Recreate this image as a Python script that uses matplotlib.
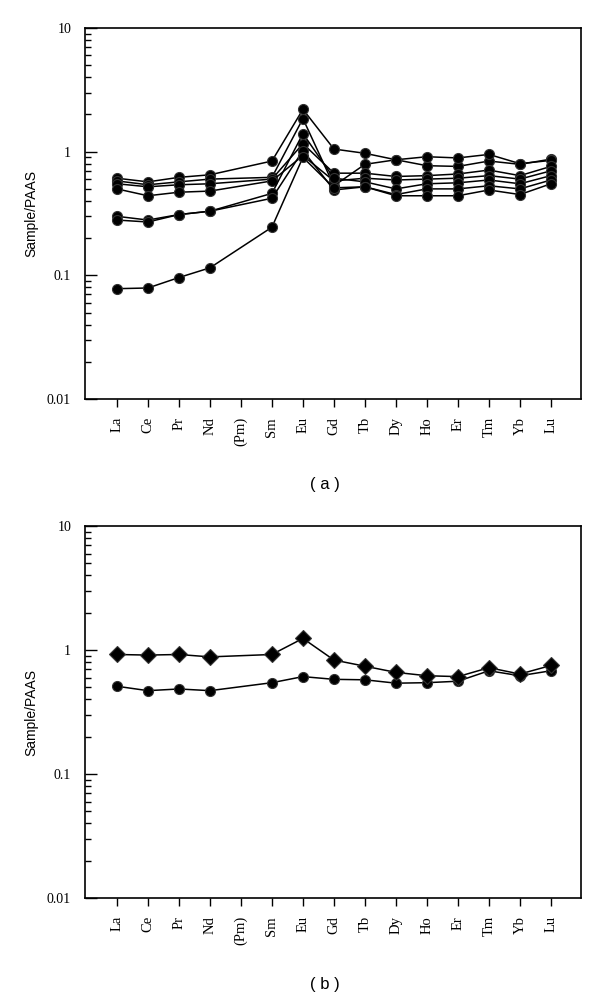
import numpy as np
import matplotlib
matplotlib.use("Agg")
import matplotlib.pyplot as plt
from matplotlib.ticker import LogLocator, NullFormatter, FixedLocator, FixedFormatter

elements = ["La", "Ce", "Pr", "Nd", "(Pm)", "Sm", "Eu", "Gd", "Tb", "Dy", "Ho", "Er", "Tm", "Yb", "Lu"]
measured = ["La", "Ce", "Pr", "Nd", "Sm", "Eu", "Gd", "Tb", "Dy", "Ho", "Er", "Tm", "Yb", "Lu"]

# panel (a) samples
a1 = [0.61, 0.57, 0.62, 0.65, 0.84, 2.20, 1.05, 0.97, 0.86, 0.77, 0.76, 0.84, 0.79, 0.87]
a2 = [0.58, 0.54, 0.57, 0.60, 0.62, 1.85, 0.53, 0.79, 0.86, 0.91, 0.89, 0.95, 0.80, 0.85]
a3 = [0.55, 0.52, 0.54, 0.55, 0.60, 1.16, 0.67, 0.67, 0.63, 0.64, 0.66, 0.71, 0.64, 0.76]
a4 = [0.50, 0.44, 0.47, 0.48, 0.58, 0.93, 0.58, 0.61, 0.59, 0.60, 0.61, 0.64, 0.60, 0.70]
a5 = [0.30, 0.28, 0.31, 0.33, 0.46, 1.40, 0.61, 0.57, 0.50, 0.55, 0.56, 0.59, 0.55, 0.64]
a6 = [0.28, 0.27, 0.31, 0.33, 0.42, 1.02, 0.49, 0.52, 0.45, 0.50, 0.50, 0.53, 0.50, 0.59]
a7 = [0.078, 0.079, 0.096, 0.115, 0.245, 0.90, 0.51, 0.52, 0.44, 0.44, 0.44, 0.49, 0.45, 0.55]
series_a = [a1, a2, a3, a4, a5, a6, a7]

# panel (b)
b_diamond = [0.92, 0.91, 0.92, 0.88, 0.92, 1.24, 0.83, 0.74, 0.66, 0.62, 0.61, 0.72, 0.64, 0.75]
b_circle = [0.51, 0.47, 0.485, 0.47, 0.545, 0.61, 0.58, 0.575, 0.54, 0.545, 0.56, 0.68, 0.62, 0.68]

W, H = 600, 998
fig = plt.figure(figsize=(W / 100, H / 100), dpi=100)
serif = ["Liberation Serif", "DejaVu Serif"]
sans = ["Liberation Sans", "DejaVu Sans"]

xpos = [elements.index(e) for e in measured]


def style_axes(ax):
    ax.set_yscale("log")
    ax.set_ylim(0.01, 10)
    ax.set_xlim(-1.03, 14.97)
    ax.yaxis.set_major_locator(FixedLocator([0.01, 0.1, 1, 10]))
    ax.yaxis.set_major_formatter(FixedFormatter(["0.01", "0.1", "1", "10"]))
    ax.yaxis.set_minor_locator(LogLocator(base=10, subs=np.arange(2, 10)))
    ax.yaxis.set_minor_formatter(NullFormatter())
    ax.tick_params(axis="y", which="major", direction="in", length=8.6, width=1.0,
                   labelsize=10, pad=10)
    ax.tick_params(axis="y", which="minor", direction="in", length=4.5, width=1.0)
    ax.set_xticks(range(len(elements)))
    ax.set_xticklabels(elements, rotation=90, fontsize=10.5, family=serif)
    ax.tick_params(axis="x", direction="out", length=6, width=1.0, pad=7)
    for lbl in ax.get_yticklabels():
        lbl.set_family(serif)
    for s in ax.spines.values():
        s.set_linewidth(1.2)
    ax.set_ylabel("Sample/PAAS", family=sans, fontsize=10, labelpad=6)


ax1 = fig.add_axes([85 / W, 1 - 399 / H, 496 / W, 371 / H])
for s in series_a:
    ax1.plot(xpos, s, color="black", lw=1.1, marker="o", ms=7.2,
             mfc="black", mec="#333333", mew=0.8)
style_axes(ax1)

ax2 = fig.add_axes([85 / W, 1 - 898 / H, 496 / W, 372 / H])
ax2.plot(xpos, b_circle, color="black", lw=1.1, marker="o", ms=7.2,
         mfc="black", mec="#333333", mew=0.8)
ax2.plot(xpos, b_diamond, color="black", lw=1.1, marker="D", ms=8.0,
         mfc="black", mec="#333333", mew=0.8)
style_axes(ax2)

fig.text(325 / W, 1 - 485 / H, "( a )", ha="center", va="center", fontsize=12,
         family=sans)
fig.text(325 / W, 1 - 984 / H, "( b )", ha="center", va="center", fontsize=12,
         family=sans)

fig.savefig("out.png", dpi=100)
